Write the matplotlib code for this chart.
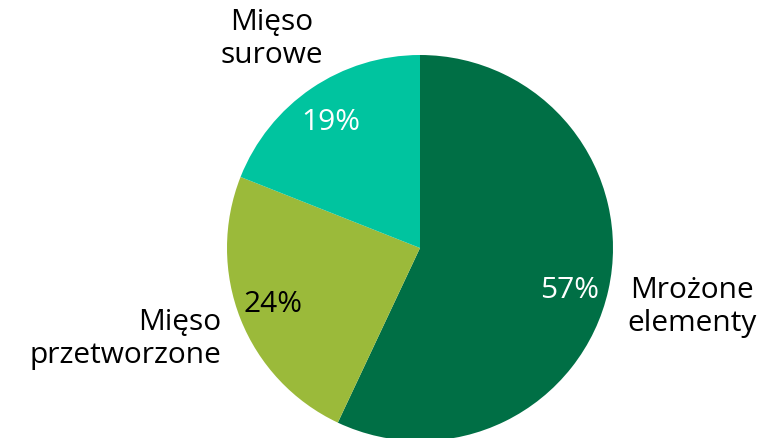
import matplotlib.pyplot as plt

labels = ['Mrożone\nelementy', 'Mięso\nprzetworzone', 'Mięso\nsurowe']
shares = [57, 24, 19]
colors = ['#006F45', '#9BBA3A', '#00C49F']
pct_colors = ['white', 'black', 'white']

plt.rcParams['font.family'] = ['Open Sans', 'DejaVu Sans']

fig = plt.figure(figsize=(7.65, 4.38), dpi=100)
ax = fig.add_axes([0, 0, 1, 1])
ax.pie(shares, colors=colors, startangle=90, counterclock=False,
       center=(420, 190), radius=193, frame=True)
ax.set_xlim(0, 765)
ax.set_ylim(0, 438)
ax.set_aspect('equal')
ax.axis('off')

# label positions (figure pixels, y up)
pct_pos = [(570, 148), (273, 134), (331, 316)]
lab_pos = [(692, 131, 'center'), (221, 99, 'right'), (272, 399, 'center')]
for s, c, (x, y) in zip(shares, pct_colors, pct_pos):
    ax.text(x, y, f'{s}%', color=c, fontsize=21.5, ha='center', va='center')
for lab, (x, y, ha) in zip(labels, lab_pos):
    ax.text(x, y, lab, fontsize=21.5, ha=ha, va='center', multialignment=ha,
            linespacing=1.15)

fig.savefig('out.png', dpi=100)
